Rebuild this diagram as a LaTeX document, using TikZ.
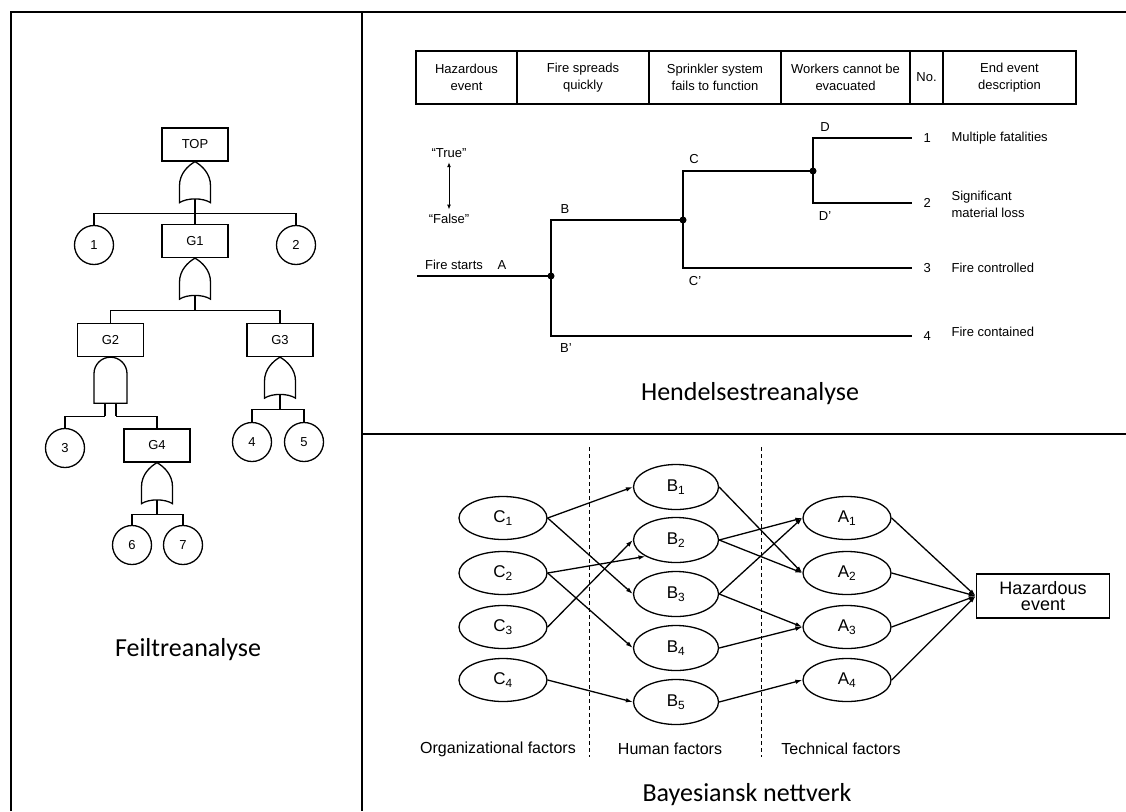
\documentclass[tikz,border=0pt]{standalone}
\usepackage{fontspec}
\setmainfont{Liberation Sans}
\newfontfamily\capfont{Carlito}
\usetikzlibrary{shapes,shapes.geometric,arrows,arrows.meta,fit,calc,positioning}

\newcommand{\orgate}[2]{%
  \begin{scope}[shift={(#1)}]
    \draw (0,0) .. controls (-7,4) and (-15.5,12) .. (-15.5,24) -- (-15.5,41)
          .. controls (-8,36) and (8,36) .. (15.5,41) -- (15.5,24)
          .. controls (15.5,12) and (7,4) .. (0,0) -- cycle;
    \draw (0,37) -- (0,52) coordinate (#2);
  \end{scope}}
\newcommand{\andgate}[2]{%
  \begin{scope}[shift={(#1)}]
    \draw (-16.5,46) -- (-16.5,16.5) .. controls (-16.5,7.4) and (-9.1,0) .. (0,0)
          .. controls (9.1,0) and (16.5,7.4) .. (16.5,16.5) -- (16.5,46) -- cycle;
    \draw (-5.5,46) -- (-5.5,59) coordinate (#2l);
    \draw (5.5,46) -- (5.5,59) coordinate (#2r);
  \end{scope}}

\begin{document}
\begin{tikzpicture}[x=1pt, y=-1pt, line width=1.3pt,
    ftbox/.style={draw, minimum width=66pt, minimum height=33pt, inner sep=0pt, font=\fontsize{13}{15}\selectfont},
    ftevt/.style={draw, circle, minimum size=39pt, inner sep=0pt, font=\fontsize{13}{15}\selectfont},
    cell/.style={draw, minimum height=53pt, inner sep=0pt, outer sep=0pt, align=center, font=\fontsize{13}{17}\selectfont},
    etxt/.style={inner sep=0pt, font=\fontsize{13}{17}\selectfont},
    endno/.style={anchor=west, inner xsep=11pt, inner ysep=0pt, font=\fontsize{13}{15}\selectfont},
    bnode/.style={draw, ellipse, minimum width=88pt, minimum height=43pt, inner sep=0pt, font=\fontsize{17}{19}\selectfont},
    factor/.style={font=\fontsize{16}{18}\selectfont},
    caption/.style={font=\capfont\fontsize{26}{30}\selectfont},
    arr/.style={-{Latex[length=7pt,width=4.5pt]}}]
\useasboundingbox (0,0) rectangle (1126,811);

% frame
\draw[line width=1.6pt] (11,811) -- (11,12) -- (1126,12);
\draw[line width=1.6pt] (362,12) -- (362,811);
\draw[line width=1.6pt] (362,434) -- (1126,434);

% fault tree
\node[ftbox] (TOP) at (195,144.5) {TOP};
\node[ftbox] (G1) at (195,241) {G1};
\node[ftbox] (G2) at (110.5,340) {G2};
\node[ftbox] (G3) at (280,340) {G3};
\node[ftbox] (G4) at (157,445.5) {G4};
\node[ftevt] (e1) at (94,245) {1};
\node[ftevt] (e2) at (296,245) {2};
\node[ftevt] (e3) at (65,448) {3};
\node[ftevt] (e4) at (252,442) {4};
\node[ftevt] (e5) at (304,442) {5};
\node[ftevt] (e6) at (132,545) {6};
\node[ftevt] (e7) at (183,545) {7};

\orgate{TOP.south}{b0}
\draw (b0) -| (e1.north);
\draw (b0) -| (e2.north);
\draw (b0) -- (G1.north);
\orgate{G1.south}{b1}
\draw (b1) -| (G2.north);
\draw (b1) -| (G3.north);
\andgate{G2.south}{b2}
\draw (b2l) -| (e3.north);
\draw (b2r) -| (G4.north);
\orgate{G3.south}{b3}
\draw (b3) -| (e4.north);
\draw (b3) -| (e5.north);
\orgate{G4.south}{b4}
\draw (b4) -| (e6.north);
\draw (b4) -| (e7.north);

\node[caption] (ftcap) at (188,650) {Feiltreanalyse};

% event tree
\node[cell, minimum width=101pt, anchor=north west] (h1) at (416,51) {Hazardous\\event};
\node[cell, minimum width=132pt, right=0pt of h1] (h2) {Fire spreads\\quickly};
\node[cell, minimum width=132pt, right=0pt of h2] (h3) {Sprinkler system\\fails to function};
\node[cell, minimum width=129pt, right=0pt of h3] (h4) {Workers cannot be\\evacuated};
\node[cell, minimum width=33pt, right=0pt of h4] (h5) {No.};
\node[cell, minimum width=133pt, right=0pt of h5] (h6) {End event\\description};

\node[etxt] (tru) at (449,153) {“True”};
\node[etxt] (fal) at (449,219) {“False”};
\draw[{Latex[length=5pt,width=4pt]}-{Latex[length=5pt,width=4pt]}, line width=1pt, shorten <=4pt, shorten >=4pt] (tru) -- (fal);

\coordinate (fs) at (417,276);
\coordinate (jA) at (551,276);
\coordinate (jB) at (683,220);
\coordinate (jC) at (813,171);
\node[endno] (n1) at (912,138) {1};
\node[endno] (n2) at (912,203) {2};
\node[endno] (n3) at (912,268) {3};
\node[endno] (n4) at (912,336) {4};
\draw (fs) -- (jA) |- (jB) |- (jC) |- (n1.west);
\draw (jC) |- (n2.west);
\draw (jB) |- (n3.west);
\draw (jA) |- (n4.west);
\fill (jA) circle (3.5);
\fill (jB) circle (3.5);
\fill (jC) circle (3.5);

\node[etxt] (fire) at (454,265) {Fire starts};
\node[etxt] (lA) at (502,265) {A};
\node[etxt] (lB) at (565,209) {B};
\node[etxt] (lB2) at (566,348) {B'};
\node[etxt] (lC) at (694,159) {C};
\node[etxt] (lC2) at (695,281) {C'};
\node[etxt] (lD) at (825,127) {D};
\node[etxt] (lD2) at (825,216) {D'};

\node[etxt, anchor=west] (d1) at (951,138) {Multiple fatalities};
\node[etxt, anchor=west, align=left] (d2) at (951,204) {Significant\\material loss};
\node[etxt, anchor=west] (d3) at (951,268) {Fire controlled};
\node[etxt, anchor=west] (d4) at (951,332) {Fire contained};

\node[caption] (etcap) at (750,394) {Hendelsestreanalyse};

% bayesian network
\draw[line width=1pt, dash pattern=on 4pt off 3pt] (589,447) -- (589,757);
\draw[line width=1pt, dash pattern=on 4pt off 3pt] (761,447) -- (761,757);

\node[bnode] (C1) at (503,518) {C\textsubscript{1}};
\node[bnode] (C2) at (503,573) {C\textsubscript{2}};
\node[bnode] (C3) at (503,627) {C\textsubscript{3}};
\node[bnode] (C4) at (503,680) {C\textsubscript{4}};
\node[bnode, minimum width=85pt, minimum height=45pt] (B1) at (676,487) {B\textsubscript{1}};
\node[bnode, minimum width=85pt, minimum height=45pt] (B2) at (676,540) {B\textsubscript{2}};
\node[bnode, minimum width=85pt, minimum height=45pt] (B3) at (676,594) {B\textsubscript{3}};
\node[bnode, minimum width=85pt, minimum height=45pt] (B4) at (676,648) {B\textsubscript{4}};
\node[bnode, minimum width=85pt, minimum height=45pt] (B5) at (676,702) {B\textsubscript{5}};
\node[bnode] (A1) at (847,518) {A\textsubscript{1}};
\node[bnode] (A2) at (847,573) {A\textsubscript{2}};
\node[bnode] (A3) at (847,627) {A\textsubscript{3}};
\node[bnode] (A4) at (847,680) {A\textsubscript{4}};
\node[draw, line width=1.6pt, minimum width=133pt, minimum height=44pt, inner sep=0pt, align=center,
      font=\fontsize{18}{16}\selectfont] (haz) at (1043,596) {Hazardous\\event};

\draw[arr] (C1.east) -- (B1.west);
\draw[arr] (C1.east) -- (B3.west);
\draw[arr] (C2.east) -- (B2.south west);
\draw[arr] (C2.east) -- (B4.west);
\draw[arr] (C3.east) -- (B2.west);
\draw[arr] (C4.east) -- (B5.west);
\draw[arr] (B1.east) -- (A2.west);
\draw[arr] (B2.east) -- (A1.west);
\draw[arr] (B2.east) -- (A2.west);
\draw[arr] (B3.east) -- (A1.west);
\draw[arr] (B3.east) -- (A3.west);
\draw[arr] (B4.east) -- (A3.west);
\draw[arr] (B5.east) -- (A4.west);
\draw[arr] (A1.east) -- (haz.west);
\draw[arr] (A2.east) -- (haz.west);
\draw[arr] (A3.east) -- (haz.west);
\draw[arr] (A4.east) -- (haz.west);

\node[factor] (org) at (498,749) {Organizational factors};
\node[factor] (hum) at (670,749) {Human factors};
\node[factor] (tec) at (841,749) {Technical factors};

\node[caption] (bncap) at (747,795) {Bayesiansk nettverk};
\end{tikzpicture}
\end{document}
